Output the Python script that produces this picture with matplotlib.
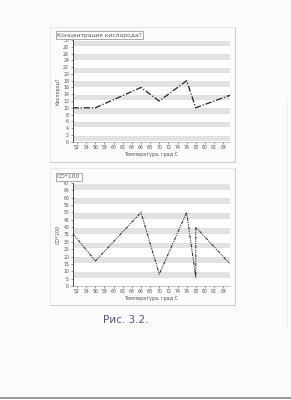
import matplotlib.pyplot as plt
from matplotlib.patches import Rectangle

# данные
temp_o2 = [51, 56, 66, 70, 76, 78, 85.5]
o2 = [10, 10, 16, 12, 18, 10, 13.7]

temp_co = [51, 56, 66, 70, 76, 78, 78, 85.5]
co = [36, 17, 50, 8, 50, 6, 40, 15]

xticks = list(range(52, 86, 2))
y1_ticks = list(range(0, 31, 2))
y2_ticks = list(range(0, 71, 5))

plt.rcParams['font.family'] = ['DejaVu Sans']
fig = plt.figure(figsize=(2.91, 4.0), dpi=100)
fig.patch.set_facecolor('#fbfbfb')

W, H = 291, 400


def fx(px):
    return px / W


def fy(py):
    return 1 - py / H


# рамки графиков (справа и снизу темнее)
for top, bot in [(27, 162), (168, 305)]:
    fig.patches.append(Rectangle((fx(50), fy(bot)), fx(235) - fx(50), fy(top) - fy(bot),
                                 transform=fig.transFigure, fill=False,
                                 edgecolor='#e6e6e6', linewidth=0.6))
    fig.add_artist(plt.Line2D([fx(235), fx(235), fx(50)], [fy(top), fy(bot), fy(bot)],
                              transform=fig.transFigure, color='#cfcfcf', lw=0.8))


def setup(ax, yticks, period, ylabel, title, title_y):
    ax.set_facecolor('white')
    ymax = yticks[-1]
    # серые полосы
    k = 0
    while k < ymax:
        if period == 4:
            ax.axhspan(k + 0.2, k + 1.8, color='#e2e2e2', lw=0, zorder=0)
        else:
            ax.axhspan(k + 5.5, k + 9.5, color='#e2e2e2', lw=0, zorder=0)
        k += period
    ax.set_ylim(0, ymax)
    ax.set_xlim(51, 85.5)
    ax.set_yticks(yticks)
    ax.set_xticks(xticks)
    ax.tick_params(labelsize=3.3, colors='#555555', length=1.5, width=0.4, pad=1)
    for s in ['top', 'right']:
        ax.spines[s].set_visible(False)
    ax.spines['left'].set_color('#333333')
    ax.spines['left'].set_linewidth(0.6)
    ax.spines['bottom'].set_color('#999999')
    ax.spines['bottom'].set_linewidth(0.4)
    ax.spines['bottom'].set_linestyle((0, (1, 1)))
    ax.set_xlabel('Температура, град С', fontsize=3.5, color='#555555', labelpad=1)
    ax.set_ylabel(ylabel, fontsize=3.5, color='#555555', labelpad=2)
    fig.text(fx(57), fy(title_y), title, fontsize=4.3, color='#555555', va='center',
             bbox=dict(boxstyle='square,pad=0.25', fc='white', ec='#888888', lw=0.5))


ax1 = fig.add_axes([fx(72.5), fy(141.7), fx(230) - fx(72.5), fy(40) - fy(141.7)])
setup(ax1, y1_ticks, 4, 'Кислород?', 'Концентрация кислорода?', 35)
ax1.plot(temp_o2, o2, color='#222222', lw=0.9, ls=(0, (5, 1.5, 1, 1.5)))

ax2 = fig.add_axes([fx(72.5), fy(286), fx(230) - fx(72.5), fy(183) - fy(286)])
setup(ax2, y2_ticks, 10, 'CO*100', 'CO*100', 177)
ax2.plot(temp_co, co, color='#333333', lw=0.8, ls=(0, (3, 1, 1, 1, 1, 1)))

# подпись от руки
fig.text(fx(103), fy(320), 'Рис. 3.2.', fontsize=7.5, color='#5a4f7a',
         va='center')

# край листа внизу
fig.add_artist(plt.Line2D([0, 1], [fy(398), fy(398)], transform=fig.transFigure,
                          color='#888888', lw=1.2))
fig.add_artist(plt.Line2D([fx(287), fx(287)], [fy(330), fy(100)], transform=fig.transFigure,
                          color='#ececec', lw=0.6))

fig.savefig('out.png', dpi=100, facecolor=fig.get_facecolor())
